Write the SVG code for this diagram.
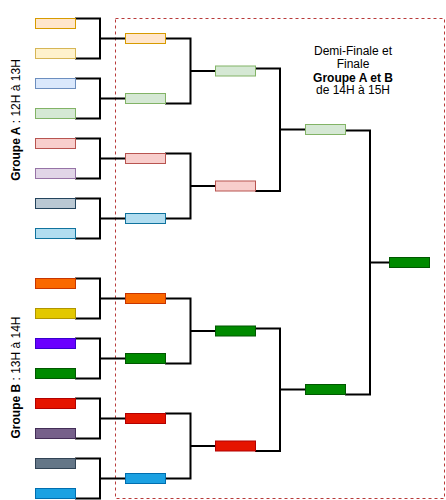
<svg xmlns="http://www.w3.org/2000/svg" width="446" height="500" viewBox="0 0 446 500">
<style>
  .conn { fill: none; stroke: #000; stroke-width: 2; }
  .box { stroke-width: 1; }
  .frame { fill: none; stroke: #b83a3a; stroke-width: 1; stroke-dasharray: 3 3; }
  .t { font-family: "Liberation Sans", Arial, Helvetica, sans-serif; font-size: 12px; fill: #000; }
  .b { font-weight: bold; }
  .c-ora-l { fill: #ffe6cc; stroke: #d79b00; }
  .c-yel-l { fill: #fff2cc; stroke: #d6b656; }
  .c-blu-l { fill: #dae8fc; stroke: #6c8ebf; }
  .c-grn-l { fill: #d5e8d4; stroke: #82b366; }
  .c-red-l { fill: #f8cecc; stroke: #b85450; }
  .c-pur-l { fill: #e1d5e7; stroke: #9673a6; }
  .c-gry-l { fill: #bac8d3; stroke: #23445d; }
  .c-cya-l { fill: #b1ddf0; stroke: #10739e; }
  .c-ora { fill: #fa6800; stroke: #c73500; }
  .c-yel { fill: #e3c800; stroke: #b09500; }
  .c-vio { fill: #6a00ff; stroke: #3700cc; }
  .c-grn { fill: #008a00; stroke: #005700; }
  .c-red { fill: #e51400; stroke: #b20000; }
  .c-mau { fill: #76608a; stroke: #432d57; }
  .c-sla { fill: #647687; stroke: #314354; }
  .c-cya { fill: #1ba1e2; stroke: #006eaf; }
</style>
<rect width="446" height="500" fill="#ffffff"/>
<g id="frame-finale"><rect class="frame" x="115.5" y="18.5" width="329" height="480"/></g>
<g id="connectors">
  <path class="conn" d="M75,18.5 H100 V58.5 H75 M100,38.5 H125"/>
  <path class="conn" d="M75,78.5 H100 V118.5 H75 M100,98.5 H125"/>
  <path class="conn" d="M75,138.5 H100 V178.5 H75 M100,158.5 H125"/>
  <path class="conn" d="M75,198.5 H100 V238.5 H75 M100,218.5 H125"/>
  <path class="conn" d="M75,278.5 H100 V318.5 H75 M100,298.5 H125"/>
  <path class="conn" d="M75,338.5 H100 V378.5 H75 M100,358.5 H125"/>
  <path class="conn" d="M75,398.5 H100 V438.5 H75 M100,418.5 H125"/>
  <path class="conn" d="M75,458.5 H100 V498.5 H75 M100,478.5 H125"/>
  <path class="conn" d="M165,38.5 H190.5 V103.5 H165 M190.5,71 H215"/>
  <path class="conn" d="M165,153.5 H190.5 V218.5 H165 M190.5,186 H215"/>
  <path class="conn" d="M165,298.5 H190.5 V363.5 H165 M190.5,331 H215"/>
  <path class="conn" d="M165,413.5 H190.5 V478.5 H165 M190.5,446 H215"/>
  <path class="conn" d="M255,68.5 H280 V191 H255 M280,129.5 H305"/>
  <path class="conn" d="M255,328.5 H280 V451 H255 M280,389.5 H305"/>
  <path class="conn" d="M345,130.5 H370 V394.5 H345 M370,262.5 H389"/>
</g>
<g id="r1-1"><rect class="box c-ora-l" x="35.5" y="18.5" width="40" height="10"/></g>
<g id="r1-2"><rect class="box c-yel-l" x="35.5" y="48.5" width="40" height="10"/></g>
<g id="r1-3"><rect class="box c-blu-l" x="35.5" y="78.5" width="40" height="10"/></g>
<g id="r1-4"><rect class="box c-grn-l" x="35.5" y="108.5" width="40" height="10"/></g>
<g id="r1-5"><rect class="box c-red-l" x="35.5" y="138.5" width="40" height="10"/></g>
<g id="r1-6"><rect class="box c-pur-l" x="35.5" y="168.5" width="40" height="10"/></g>
<g id="r1-7"><rect class="box c-gry-l" x="35.5" y="198.5" width="40" height="10"/></g>
<g id="r1-8"><rect class="box c-cya-l" x="35.5" y="228.5" width="40" height="10"/></g>
<g id="r1-9"><rect class="box c-ora" x="35.5" y="278.5" width="40" height="10"/></g>
<g id="r1-10"><rect class="box c-yel" x="35.5" y="308.5" width="40" height="10"/></g>
<g id="r1-11"><rect class="box c-vio" x="35.5" y="338.5" width="40" height="10"/></g>
<g id="r1-12"><rect class="box c-grn" x="35.5" y="368.5" width="40" height="10"/></g>
<g id="r1-13"><rect class="box c-red" x="35.5" y="398.5" width="40" height="10"/></g>
<g id="r1-14"><rect class="box c-mau" x="35.5" y="428.5" width="40" height="10"/></g>
<g id="r1-15"><rect class="box c-sla" x="35.5" y="458.5" width="40" height="10"/></g>
<g id="r1-16"><rect class="box c-cya" x="35.5" y="488.5" width="40" height="10"/></g>
<g id="r2-1"><rect class="box c-ora-l" x="125.5" y="33.5" width="40" height="10"/></g>
<g id="r2-2"><rect class="box c-grn-l" x="125.5" y="93.5" width="40" height="10"/></g>
<g id="r2-3"><rect class="box c-red-l" x="125.5" y="153.5" width="40" height="10"/></g>
<g id="r2-4"><rect class="box c-cya-l" x="125.5" y="213.5" width="40" height="10"/></g>
<g id="r2-5"><rect class="box c-ora" x="125.5" y="293.5" width="40" height="10"/></g>
<g id="r2-6"><rect class="box c-grn" x="125.5" y="353.5" width="40" height="10"/></g>
<g id="r2-7"><rect class="box c-red" x="125.5" y="413.5" width="40" height="10"/></g>
<g id="r2-8"><rect class="box c-cya" x="125.5" y="473.5" width="40" height="10"/></g>
<g id="r3-1"><rect class="box c-grn-l" x="215.5" y="66" width="40" height="10"/></g>
<g id="r3-2"><rect class="box c-red-l" x="215.5" y="181" width="40" height="10"/></g>
<g id="r3-3"><rect class="box c-grn" x="215.5" y="326" width="40" height="10"/></g>
<g id="r3-4"><rect class="box c-red" x="215.5" y="441" width="40" height="10"/></g>
<g id="sf-1"><rect class="box c-grn-l" x="305.5" y="124.5" width="40" height="10"/></g>
<g id="sf-2"><rect class="box c-grn" x="305.5" y="384.5" width="40" height="10"/></g>
<g id="final"><rect class="box c-grn" x="389.5" y="257.5" width="40" height="10"/></g>
<g id="label-groupe-a"><text class="t" transform="translate(19.5,120) rotate(-90)" text-anchor="middle"><tspan class="b">Groupe A</tspan> : 12H à 13H</text></g>
<g id="label-groupe-b"><text class="t" transform="translate(19.5,377.5) rotate(-90)" text-anchor="middle"><tspan class="b">Groupe B</tspan> : 13H à 14H</text></g>
<g id="label-finale">
  <text class="t" x="353" y="54.5" text-anchor="middle">Demi-Finale et</text>
  <text class="t" x="353" y="68" text-anchor="middle">Finale</text>
  <text class="t b" x="353" y="81.5" text-anchor="middle">Groupe A et B</text>
  <text class="t" x="353" y="94" text-anchor="middle">de 14H à 15H</text>
</g>
</svg>
